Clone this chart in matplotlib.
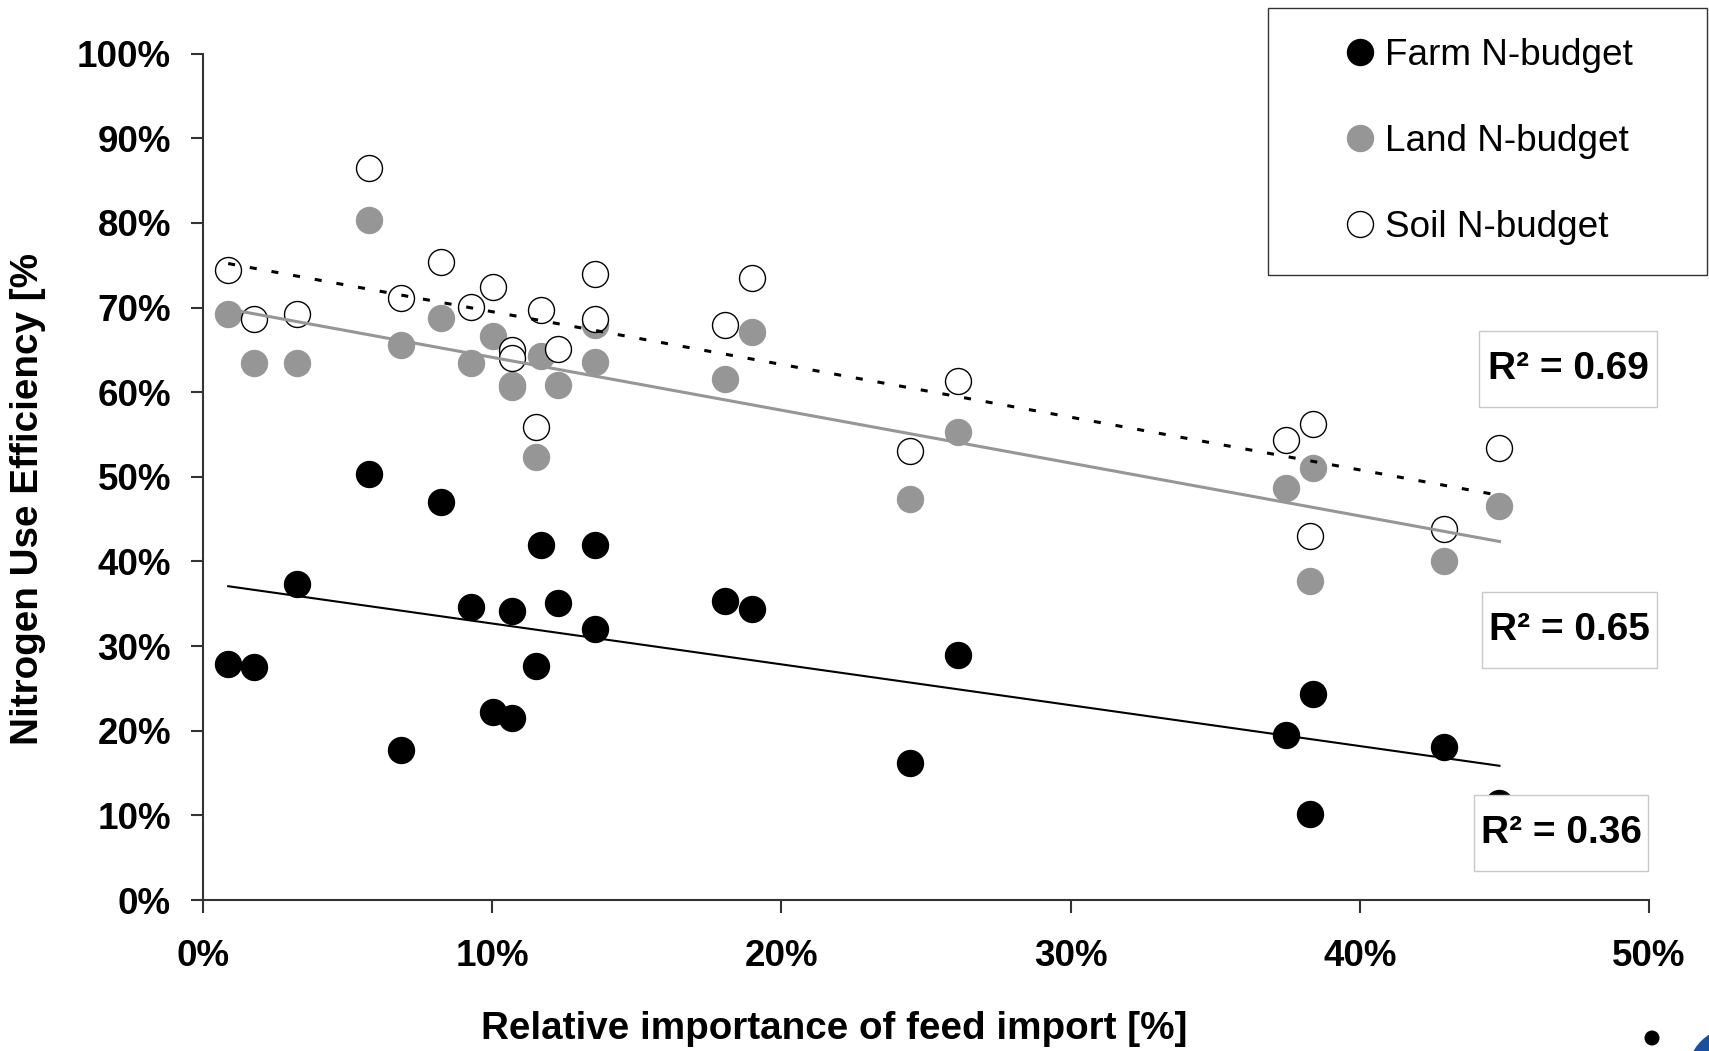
import numpy as np
import matplotlib.pyplot as plt
from matplotlib.patches import Rectangle, Ellipse
from matplotlib.lines import Line2D

plt.rcParams['font.family'] = ['Liberation Sans', 'DejaVu Sans']

# feed import share [%] per farm and N use efficiency [%] of the three budgets
feed_import = [0.87, 1.77, 3.24, 5.73, 6.86, 8.22, 9.28, 10.03, 10.67, 10.67,
               11.5, 11.7, 12.27, 13.57, 13.57, 18.06, 19.0, 24.43, 26.09,
               37.44, 38.39, 38.27, 42.92, 44.83]
farm_nue = [27.9, 27.5, 37.3, 50.3, 17.7, 47.0, 34.6, 22.2, 34.2, 21.5,
            27.6, 42.0, 35.1, 42.0, 32.0, 35.3, 34.4, 16.2, 29.0,
            19.5, 24.4, 10.2, 18.1, 11.5]
land_nue = [69.3, 63.5, 63.4, 80.3, 65.6, 68.8, 63.4, 66.7, 60.8, 60.6,
            52.4, 64.3, 60.8, 67.9, 63.6, 61.6, 67.1, 47.4, 55.3,
            48.7, 51.0, 37.7, 40.1, 46.6]
soil_nue = [74.4, 68.6, 69.3, 86.5, 71.1, 75.4, 70.1, 72.4, 65.0, 64.0,
            55.9, 69.7, 65.1, 74.0, 68.7, 67.9, 73.5, 53.0, 61.3,
            54.3, 56.2, 43.0, 43.8, 53.4]
r2_labels = ['R² = 0.69', 'R² = 0.65', 'R² = 0.36']

x_ticks = [0, 10, 20, 30, 40, 50]
y_ticks = [0, 10, 20, 30, 40, 50, 60, 70, 80, 90, 100]

grey = '#969696'
W, H = 1709, 1051

fig = plt.figure(figsize=(W / 100, H / 100), dpi=100)
ax = fig.add_axes([203 / W, 1 - 900 / H, 1446 / W, 846.3 / H])

x = np.array(feed_import)
ms = 18.7
ax.plot(x, farm_nue, 'o', ms=ms, color='black', mec='black', zorder=3)
ax.plot(x, land_nue, 'o', ms=ms, color=grey, mec=grey, zorder=3)
ax.plot(x, soil_nue, 'o', ms=ms, mfc='white', mec='black', mew=1.0, zorder=3)

# linear trend lines
xl = np.array([x.min(), x.max()])
for vals, col, lw, ls in [(farm_nue, 'black', 1.5, '-'),
                          (land_nue, grey, 2.2, '-'),
                          (soil_nue, 'black', 2.2, (0, (2.3, 4.9)))]:
    k, b = np.polyfit(x, vals, 1)
    ax.plot(xl, k * xl + b, color=col, lw=lw, ls=ls, zorder=4)

ax.set_xlim(0, 50)
ax.set_ylim(0, 100)
ax.set_xticks(x_ticks, labels=[f'{t}%' for t in x_ticks], fontweight='bold')
ax.set_yticks(y_ticks, labels=[f'{t}%' for t in y_ticks], fontweight='bold')
ax.tick_params(axis='both', direction='out', length=9, width=1.5,
               color='#333333', labelsize=26.5)
ax.tick_params(axis='y', pad=14)
ax.tick_params(axis='x', pad=19)
for s in ['top', 'right']:
    ax.spines[s].set_visible(False)
for s in ['left', 'bottom']:
    ax.spines[s].set_linewidth(1.5)
    ax.spines[s].set_color('#333333')

fig.text(834 / W, 1 - 1029 / H, 'Relative importance of feed import [%]',
         ha='center', va='center', fontsize=27.8, fontweight='bold')
fig.text(28 / W, 1 - 499 / H, 'Nitrogen Use Efficiency [%',
         ha='center', va='center', rotation=90, fontsize=27.8, fontweight='bold')

# legend
handles = [Line2D([], [], ls='', marker='o', ms=ms, color='black'),
           Line2D([], [], ls='', marker='o', ms=ms, color=grey),
           Line2D([], [], ls='', marker='o', ms=ms, mfc='white', mec='black', mew=1.0)]
leg = ax.legend(handles, ['Farm N-budget', 'Land N-budget', 'Soil N-budget'],
                loc='upper left', mode='expand', borderaxespad=0,
                bbox_to_anchor=(1268 / W, 1 - 266 / H, 439 / W, 258 / H),
                bbox_transform=fig.transFigure, fontsize=26.6, frameon=True,
                fancybox=False, edgecolor='black', borderpad=0.82,
                handlelength=3.35, handletextpad=-1.0, labelspacing=1.37)
leg.get_frame().set_linewidth(1.0)

# R² boxes
boxes = [(1479, 331, 178, 76), (1482, 592, 175, 76), (1474, 795, 174, 76)]
for (bx, by, bw, bh), lab in zip(boxes, r2_labels):
    fig.patches.append(Rectangle((bx / W, 1 - (by + bh) / H), bw / W, bh / H,
                                 transform=fig.transFigure, fc='white',
                                 ec='#c8c8c8', lw=1.0, zorder=5))
    fig.text((bx + bw / 2) / W, 1 - (by + bh / 2) / H, lab, ha='center',
             va='center', fontsize=28, fontweight='bold', zorder=6)

# logo fragments in the corner
fig.patches.append(Ellipse((1652 / W, 1 - 1038 / H), 15 / W, 15 / H,
                           transform=fig.transFigure, fc='black', ec='none'))
fig.patches.append(Ellipse((1735 / W, 1 - 1075 / H), 96 / W, 96 / H,
                           transform=fig.transFigure, fc='#1a4fa0', ec='none'))

fig.savefig('out.png', dpi=100)
